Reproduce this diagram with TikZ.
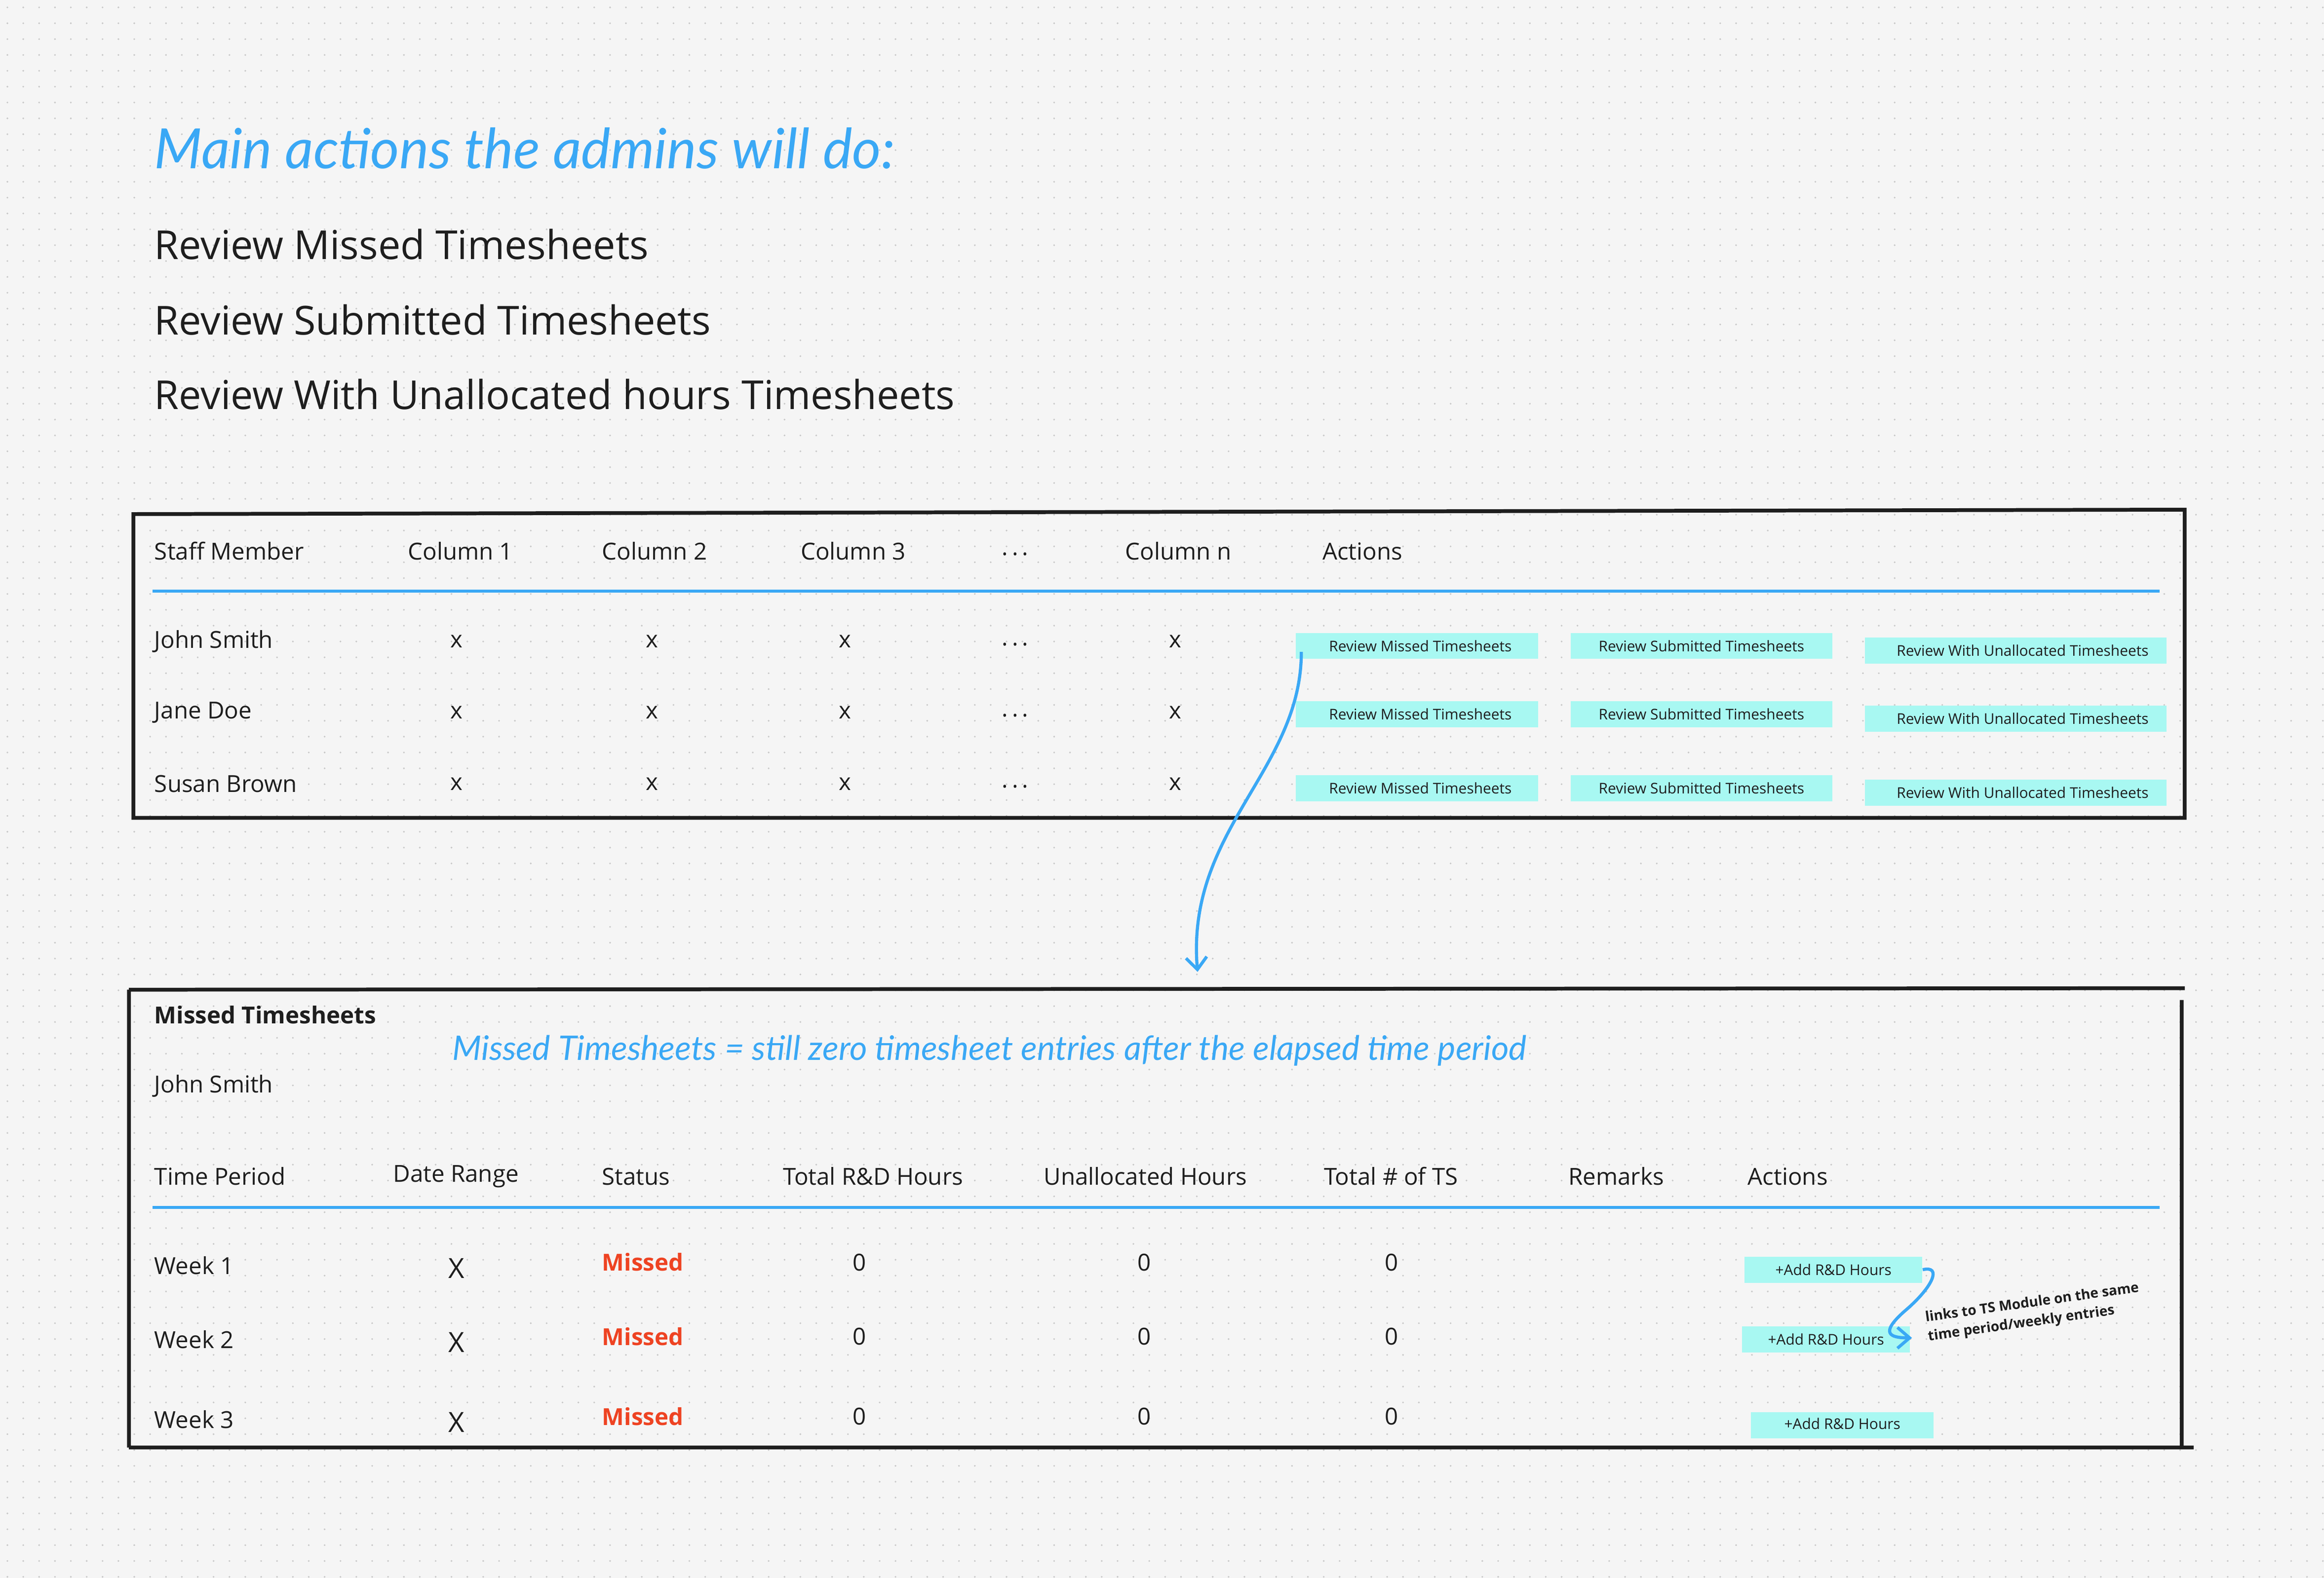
\documentclass[tikz,border=0pt]{standalone}
\usepackage{fontspec}
\setmainfont{Open Sans}
\newfontfamily\handfont{Lato}
\usetikzlibrary{arrows.meta}
\definecolor{bgcol}{HTML}{F5F5F5}
\definecolor{dotcol}{HTML}{C8C8C8}
\definecolor{skyblue}{HTML}{3AA8F5}
\definecolor{hilite}{HTML}{A8F8F2}
\definecolor{missred}{HTML}{EE4322}
\definecolor{ink}{HTML}{1E1E1E}
\tikzset{
  txt/.style={anchor=west,inner sep=0pt,font=\fontsize{13.5}{16}\selectfont,text=ink},
  ctr/.style={txt,anchor=center},
  big/.style={anchor=west,inner sep=0pt,font=\fontsize{23}{28}\selectfont,text=ink},
  hand/.style={anchor=west,inner sep=0pt,text=skyblue,font=\handfont\itshape},
  tag/.style={inner sep=0pt,fill=hilite,minimum height=15pt,font=\fontsize{8.5}{9}\selectfont,text=ink},
  frame/.style={draw=ink,line width=2.2pt},
  rule/.style={draw=skyblue,line width=1.6pt},
  link/.style={draw=skyblue,line width=1.8pt,-{Straight Barb[length=7pt,width=12pt]}}
}
\begin{document}
\begin{tikzpicture}[x=0.3mm,y=-0.3mm]
\fill[bgcol] (0,0) rectangle (1568,1065);
\useasboundingbox (0,0) rectangle (1568,1065);
% dotted canvas
\foreach \j in {0,...,99} {\draw[dotcol,line width=1.1pt,line cap=round,dash pattern=on 0pt off 3.21mm] (5,5+\j*10.7) -- (1568,5+\j*10.7);}

% heading
\node[hand,font=\handfont\itshape\fontsize{32}{36}\selectfont] (title) at (104,100) {Main actions the admins will do:};
\node[big] (a1) at (104,165) {Review Missed Timesheets};
\node[big] (a2) at (104,216) {Review Submitted Timesheets};
\node[big] (a3) at (104,266) {Review With Unallocated hours Timesheets};

% staff table
\draw[frame] (90,347) -- (1474,344) -- (1474,552) -- (90,552) -- cycle;
\draw[rule] (103,399) -- (1457,399);
\node[txt] (h0) at (104,372) {Staff Member};
\node[txt] (h1) at (275,372) {Column 1};
\node[txt] (h2) at (406,372) {Column 2};
\node[txt] (h3) at (540,372) {Column 3};
\node[ctr] (h4) at (685,374) {.\,.\,.};
\node[txt] (h5) at (759,372) {Column n};
\node[txt] (h6) at (892,372) {Actions};
\foreach \nm/\y in {John Smith/433,Jane Doe/481,Susan Brown/529} {
  \node[txt] at (104,\y) {\nm};
  \foreach \x in {308,440,570,793} {\node[ctr] at (\x,\y) {x};}
  \node[ctr] at (685,\y+2) {.\,.\,.};
}
\foreach \y/\k in {433/1,479/2,529/3} {
  \node[tag,minimum width=49mm] (m\k) at (956,\y+3) {\hspace{4pt}Review Missed Timesheets};
  \node[tag,minimum width=53mm] (s\k) at (1148,\y+3) {Review Submitted Timesheets};
  \node[tag,minimum width=61mm] (u\k) at (1360,\y+6) {\hspace{8pt}Review With Unallocated Timesheets};
}
\coordinate (arrtip) at (808,656);
\draw[link] (878,440) .. controls (878,520) and (800,560) .. (arrtip);

% missed table
\draw[frame] (87,668) -- (1474,667) (1472,675) -- (1472,977) (87,977) -- (1480,977) (87,668) -- (87,977);
\node[txt,font=\bfseries\fontsize{13.5}{16}\selectfont] (mt) at (104,685) {Missed Timesheets};
\node[hand,font=\handfont\itshape\fontsize{19.5}{22}\selectfont] (note) at (305,709) {Missed Timesheets = still zero timesheet entries after the elapsed time period};
\node[txt] (who) at (104,733) {John Smith};
\node[txt] (k0) at (104,794) {Time Period};
\node[txt] (k1) at (265,794) {Date Range};
\node[txt] (k2) at (406,794) {Status};
\node[txt] (k3) at (528,794) {Total R\&D Hours};
\node[txt] (k4) at (704,794) {Unallocated Hours};
\node[txt] (k5) at (893,794) {Total \# of TS};
\node[txt] (k6) at (1058,794) {Remarks};
\node[txt] (k7) at (1179,794) {Actions};
\draw[rule] (103,815) -- (1457,815);
\foreach \w/\y in {1/854,2/904,3/958} {
  \node[txt] at (104,\y) {Week \w};
  \node[ctr,font=\fontsize{16}{18}\selectfont] at (308,\y+2) {X};
  \node[txt,font=\bfseries\fontsize{13.5}{16}\selectfont,text=missred] at (406,\y-2) {Missed};
  \foreach \x in {580,772,939} {\node[ctr] at (\x,\y-2) {0};}
}
\node[tag,minimum width=36mm] (add1) at (1237,857) {+Add R\&D Hours};
\node[tag,minimum width=34mm] (add2) at (1232,904) {\raisebox{-3pt}{+Add R\&D Hours}\hspace{5pt}};
\node[tag,minimum width=37mm] (add3) at (1243,962) {\raisebox{2pt}{+Add R\&D Hours}\hspace{16pt}};
\node[rotate=8,align=left,inner sep=0pt,font=\bfseries\fontsize{8}{11}\selectfont,text=ink] (linknote) at (1372,886) {links to TS Module on the same\\time period/weekly entries};
\draw[link] (add1.east) .. controls (1310,854) and (1305,868) .. (1285,885) .. controls (1268,900) and (1275,903) .. (1290,903);
\end{tikzpicture}
\end{document}
